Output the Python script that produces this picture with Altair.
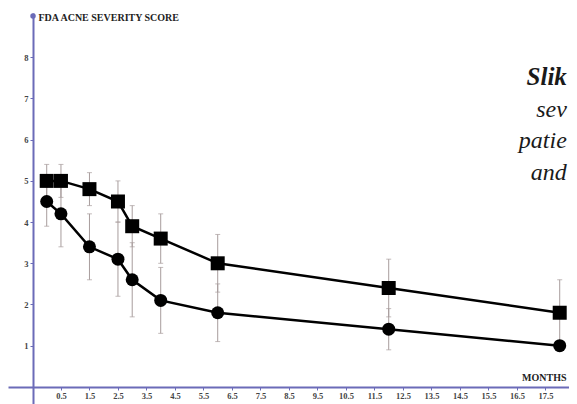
import altair as alt
import pandas as pd

# ---- data ----
months = [0, 0.5, 1.5, 2.5, 3, 4, 6, 12, 18]
square_scores = [5.0, 5.0, 4.8, 4.5, 3.9, 3.6, 3.0, 2.4, 1.8]
square_err = [0.4, 0.4, 0.4, 0.5, 0.5, 0.6, 0.7, 0.7, 0.8]
circle_scores = [4.5, 4.2, 3.4, 3.1, 2.6, 2.1, 1.8, 1.4, 1.0]
circle_err = [0.6, 0.8, 0.8, 0.9, 0.9, 0.8, 0.7, 0.5, 0.0]

x_tick_values = [0.5, 1.5, 2.5, 3.5, 4.5, 5.5, 6.5, 7.5, 8.5, 9.5, 10.5,
                 11.5, 12.5, 13.5, 14.5, 15.5, 16.5, 17.5]
y_tick_values = [1, 2, 3, 4, 5, 6, 7, 8]

# visible fragments of the (cropped) figure caption
caption_text = ["Slik", "sev", "patie", "and"]
caption_month = [18.25, 18.25, 18.25, 18.25]
caption_score = [7.33, 6.55, 5.80, 5.02]
caption_bold = [True, False, False, False]

y_title = "FDA ACNE SEVERITY SCORE"
x_title = "MONTHS"

# ---- tables ----
pts = pd.DataFrame({
    "month": months * 2,
    "score": square_scores + circle_scores,
    "err": square_err + circle_err,
    "series": ["square"] * len(months) + ["circle"] * len(months),
})
pts["lo"] = pts["score"] - pts["err"]
pts["hi"] = pts["score"] + pts["err"]
err = pts[pts["err"] > 0]
caps = pd.concat([
    err[["month", "lo"]].rename(columns={"lo": "score"}),
    err[["month", "hi"]].rename(columns={"hi": "score"}),
])
cap_df = pd.DataFrame({"text": caption_text, "month": caption_month,
                       "score": caption_score, "bold": caption_bold})
dot_df = pd.DataFrame({"month": [-0.48], "score": [9.0]})

AXIS_BLUE = "#6b6bb8"
SERIF = "Liberation Serif"

xscale = alt.Scale(domain=[-1.358, 18.326], nice=False, zero=False)
yscale = alt.Scale(domain=[-0.415, 9.075], nice=False, zero=False)

xaxis = alt.Axis(values=x_tick_values, format=".1f", orient="bottom", offset=-17,
                 domainColor=AXIS_BLUE, domainWidth=2, tickColor=AXIS_BLUE,
                 tickSize=3, tickWidth=1, labelFont=SERIF, labelFontSize=8.5,
                 labelFontWeight="bold", labelColor="#444", labelPadding=1,
                 labelFlush=False, labelOverlap=False, grid=False,
                 title=x_title, titleFont=SERIF, titleFontSize=10,
                 titleFontWeight="bold", titleColor="#222", titleAlign="right",
                 titleBaseline="middle", titleX=558, titleY=-10)
yaxis = alt.Axis(values=y_tick_values, orient="left", offset=-25,
                 domainColor=AXIS_BLUE, domainWidth=2, tickColor=AXIS_BLUE,
                 tickSize=3, tickWidth=1, labelFont=SERIF, labelFontSize=8.5,
                 labelFontWeight="bold", labelColor="#444", labelPadding=2,
                 grid=False, title=y_title, titleAngle=0, titleAlign="left",
                 titleBaseline="middle", titleX=5, titleY=4, titleFont=SERIF,
                 titleFontSize=10, titleFontWeight="bold", titleColor="#222")

X = alt.X("month:Q", scale=xscale, axis=xaxis)
Y = alt.Y("score:Q", scale=yscale, axis=yaxis)

bars = alt.Chart(err).mark_rule(color="#a89c9c", strokeWidth=1).encode(
    x=X, y=alt.Y("lo:Q", scale=yscale, axis=yaxis), y2="hi:Q")
capmarks = alt.Chart(caps).mark_tick(orient="horizontal", size=5, thickness=1,
                                    color="#a89c9c").encode(x=X, y=Y)
lines = alt.Chart(pts).mark_line(color="black", strokeWidth=2.5).encode(
    x=X, y=Y, detail="series:N")
squares = alt.Chart(pts[pts["series"] == "square"]).mark_point(
    shape="square", filled=True, color="black", size=196, opacity=1).encode(x=X, y=Y)
circles = alt.Chart(pts[pts["series"] == "circle"]).mark_point(
    shape="circle", filled=True, color="black", size=169, opacity=1).encode(x=X, y=Y)
dot = alt.Chart(dot_df).mark_point(shape="circle", filled=True, color=AXIS_BLUE,
                                   size=30, opacity=1).encode(x=X, y=Y)
cap_bold = alt.Chart(cap_df[cap_df["bold"]]).mark_text(
    align="right", baseline="alphabetic", font=SERIF, fontSize=25,
    fontStyle="italic", fontWeight="bold", color="#1a1a1a").encode(
    x=X, y=Y, text="text:N")
cap_plain = alt.Chart(cap_df[~cap_df["bold"]]).mark_text(
    align="right", baseline="alphabetic", font=SERIF, fontSize=24,
    fontStyle="italic", color="#1a1a1a").encode(
    x=X, y=Y, text="text:N")

chart = alt.layer(bars, capmarks, lines, squares, circles, dot, cap_bold, cap_plain).properties(
    width=561, height=391,
    autosize=alt.AutoSizeParams(type="none"),
    padding={"left": 0, "top": 5, "right": 0, "bottom": 0},
    background="white",
).configure_view(stroke=None)

chart.save("out.html", embed_options={"renderer": "svg", "actions": False})
